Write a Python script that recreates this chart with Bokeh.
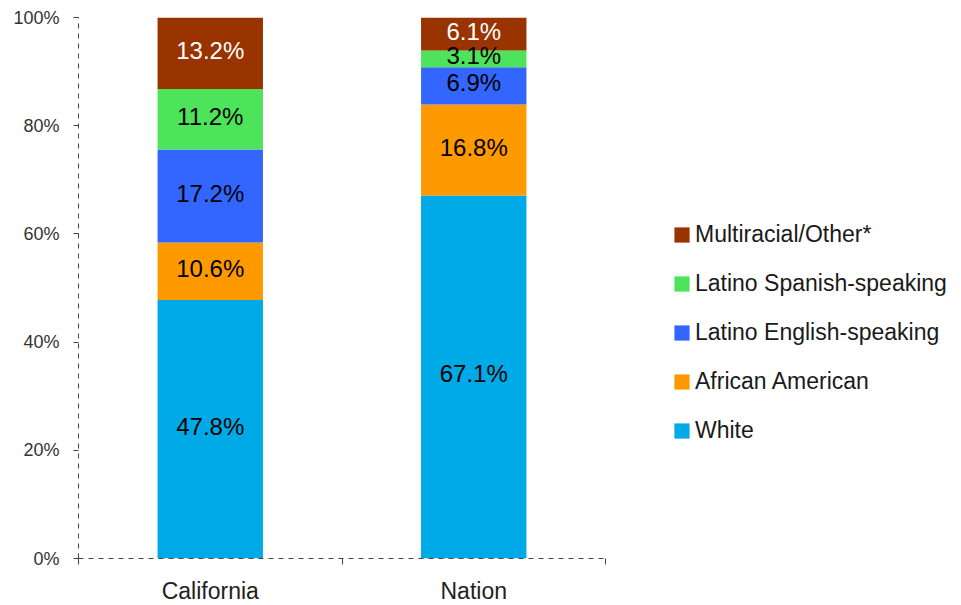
from bokeh.plotting import figure
from bokeh.models import Range1d, FixedTicker, Legend, LegendItem, ColumnDataSource, PrintfTickFormatter
from bokeh.core.properties import value
from bokeh.embed import file_html
from bokeh.resources import INLINE

regions = ["California", "Nation"]
groups = ["White", "African American", "Latino English-speaking",
          "Latino Spanish-speaking", "Multiracial/Other*"]
white = [47.8, 67.1]
african_american = [10.6, 16.8]
latino_english = [17.2, 6.9]
latino_spanish = [11.2, 3.1]
multiracial = [13.2, 6.1]
colors = ["#00AAE6", "#FF9900", "#3366FF", "#4DE35A", "#993300"]
label_colors = ["#000000", "#000000", "#000000", "#000000", "#FFFFFF"]
yticks = [0, 20, 40, 60, 80, 100]

series = [white, african_american, latino_english, latino_spanish, multiracial]
FONT = "Liberation Sans"
AX = "#444444"

AXIS_PX = 527      # pixel length of the category axis
FRAME_W = 875      # frame also hosts the legend on the right

xs = [i + 0.5 for i in range(len(regions))]
data = dict(x=xs)
for g, s in zip(groups, series):
    data[g] = s
source = ColumnDataSource(data)

p = figure(x_range=Range1d(0, len(regions) * FRAME_W / AXIS_PX), y_range=Range1d(0, 100),
           frame_width=FRAME_W, frame_height=541,
           min_border_left=78, min_border_right=0, min_border_top=17, min_border_bottom=30,
           output_backend="svg", toolbar_location=None)
p.outline_line_color = None
p.xgrid.visible = False
p.ygrid.visible = False

renderers = p.vbar_stack(groups, x="x", width=0.4, color=colors, line_color=None, source=source)

# segment labels
lx, ly, lt, lc = [], [], [], []
for j, x in enumerate(xs):
    bottom = 0.0
    for k, s in enumerate(series):
        v = s[j]
        lx.append(x)
        ly.append(bottom + v / 2)
        lt.append(f"{v:.1f}%")
        lc.append(label_colors[k])
        bottom += v
p.text(x=lx, y=ly, text=lt, text_color=lc, text_align="center", text_baseline="middle",
       text_font=value(FONT), text_font_size="24px", y_offset=-3)

# y axis
ya = p.yaxis[0]
ya.ticker = FixedTicker(ticks=yticks)
ya.formatter = PrintfTickFormatter(format="%d%%")
ya.axis_line_dash = "5 5"
ya.axis_line_color = AX
ya.major_tick_line_color = AX
ya.major_tick_in = 0
ya.major_tick_out = 5
ya.minor_tick_line_color = None
ya.major_label_standoff = 14
ya.major_label_text_font = FONT
ya.major_label_text_font_size = "18px"
ya.major_label_text_color = "#333333"

# x axis
xa = p.xaxis[0]
xa.bounds = (0, len(regions))
xa.ticker = FixedTicker(ticks=xs, minor_ticks=list(range(len(regions) + 1)))
xa.major_label_overrides = {x: r for x, r in zip(xs, regions)}
xa.axis_line_dash = "5 5"
xa.axis_line_color = AX
xa.major_tick_line_color = None
xa.major_tick_in = 0
xa.major_tick_out = 0
xa.minor_tick_line_color = AX
xa.minor_tick_in = 0
xa.minor_tick_out = 6
xa.major_label_standoff = 13
xa.major_label_text_font = FONT
xa.major_label_text_font_size = "23px"
xa.major_label_text_color = "#222222"

items = [LegendItem(label=g, renderers=[r]) for g, r in zip(groups, renderers)][::-1]
legend = Legend(items=items, location=(594, 114), glyph_width=19, glyph_height=19,
                label_standoff=4, spacing=22, padding=0, margin=0,
                border_line_alpha=0, background_fill_alpha=0,
                label_text_font=FONT, label_text_font_size="23px", label_text_color="#1a1a1a")
p.add_layout(legend)

open("out.html", "w").write(file_html(p, INLINE))
